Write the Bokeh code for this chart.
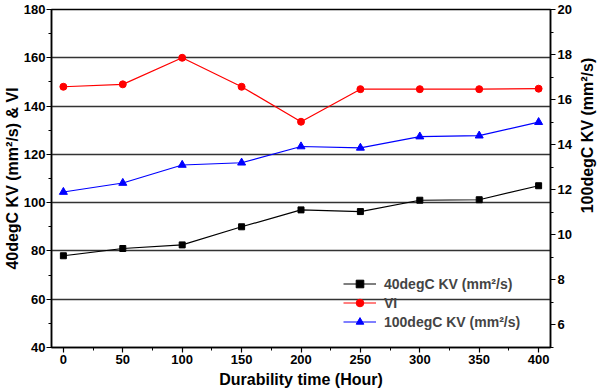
import math
from bokeh.plotting import figure
from bokeh.layouts import row
from bokeh.models import LinearAxis, Range1d, Legend, LegendItem, SingleIntervalTicker, FixedTicker, Label
from bokeh.embed import file_html
from bokeh.resources import INLINE

hours = [0, 50, 100, 150, 200, 250, 300, 350, 400]
kv40 = [78, 81, 82.5, 90, 97, 96.3, 101, 101.2, 107]
vi = [148, 149, 160, 148, 133.5, 147, 147, 147, 147.2]
kv100 = [11.9, 12.3, 13.1, 13.2, 13.92, 13.86, 14.36, 14.4, 15.0]

FONT = "Liberation Sans"

p = figure(width=574, height=390, x_range=(-10, 410), y_range=(40, 180),
           output_backend="svg", toolbar_location=None,
           min_border_left=10, min_border_right=23, min_border_top=9, min_border_bottom=10)
p.extra_y_ranges = {"r": Range1d(5, 20)}

right = LinearAxis(y_range_name="r")
p.add_layout(right, "right")

p.xaxis.ticker = SingleIntervalTicker(interval=50, num_minor_ticks=2)
p.yaxis[0].ticker = SingleIntervalTicker(interval=20, num_minor_ticks=2)
right.ticker = SingleIntervalTicker(interval=2, num_minor_ticks=2)

p.xaxis.axis_label = "Durability time (Hour)"
p.yaxis[0].axis_label = "40degC KV (mm²/s) & VI"

for ax in [p.xaxis[0], p.yaxis[0], right]:
    ax.axis_line_width = 1.5
    ax.axis_line_color = "black"
    ax.major_tick_in = 0
    ax.major_tick_out = 5
    ax.minor_tick_in = 0
    ax.minor_tick_out = 3
    ax.major_tick_line_color = "black"
    ax.minor_tick_line_color = "black"
    ax.major_tick_line_width = 1.2
    ax.major_label_standoff = 2
    ax.major_label_text_font = FONT
    ax.major_label_text_font_style = "bold"
    ax.major_label_text_font_size = "13px"
    ax.major_label_text_color = "black"
    ax.axis_label_text_font = FONT
    ax.axis_label_text_font_style = "bold"
    ax.axis_label_text_font_size = "16px"
    ax.axis_label_text_color = "black"
    ax.axis_label_standoff = 1
p.xaxis.axis_label_standoff = 4
p.yaxis[0].axis_label_standoff = 0
p.yaxis[0].major_label_standoff = 1

p.xgrid.visible = False
p.ygrid.ticker = FixedTicker(ticks=[60, 80, 100, 120, 140, 160])
p.ygrid.grid_line_color = "#333333"
p.ygrid.grid_line_width = 1.3
p.outline_line_color = "black"
p.outline_line_width = 1.5
p.background_fill_color = "white"

l1 = p.line(hours, kv40, color="black", line_width=1.2)
m1 = p.scatter(hours, kv40, marker="square", size=6, color="black")
l2 = p.line(hours, vi, color="red", line_width=1.2)
m2 = p.scatter(hours, vi, marker="circle", size=7, color="red")
l3 = p.line(hours, kv100, color="blue", line_width=1.2, y_range_name="r")
m3 = p.scatter(hours, kv100, marker="triangle", size=8, color="blue", y_range_name="r")

legend = Legend(items=[
    LegendItem(label="40degC KV (mm²/s)", renderers=[l1, m1]),
    LegendItem(label="VI", renderers=[l2, m2]),
    LegendItem(label="100degC KV (mm²/s)", renderers=[l3, m3]),
], location=(290, 14))
legend.margin = 0
legend.background_fill_alpha = 0
legend.border_line_alpha = 0
legend.label_text_font = FONT
legend.label_text_font_style = "bold"
legend.label_text_font_size = "14px"
legend.glyph_width = 33
legend.label_standoff = 8
legend.label_height = 19
legend.glyph_height = 19
legend.spacing = 0
legend.padding = 2
p.add_layout(legend)

# narrow strip carrying the right-hand axis title, reading bottom-to-top
p2 = figure(width=25, height=390, x_range=(0, 1), y_range=(0, 1),
            output_backend="svg", toolbar_location=None,
            min_border=0, min_border_left=0, min_border_right=0, min_border_top=0, min_border_bottom=0)
p2.axis.visible = False
p2.grid.visible = False
p2.outline_line_color = None
p2.add_layout(Label(x=0.5, y=212, y_units="screen", text="100degC KV (mm²/s)", angle=math.pi / 2,
                    text_align="center", text_baseline="middle", text_font=FONT,
                    text_font_style="bold", text_font_size="16px", text_color="black"))

layout = row(p, p2, spacing=0)
open("out.html", "w").write(file_html(layout, INLINE))
